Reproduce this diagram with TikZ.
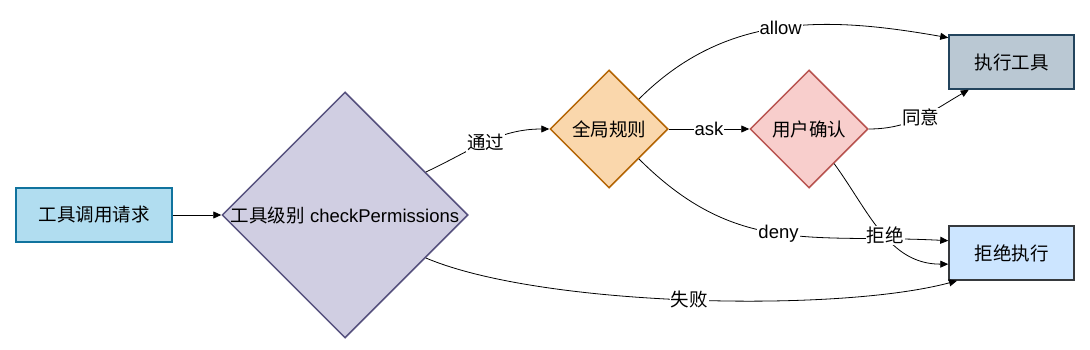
\documentclass[tikz,border=0pt]{standalone}
\usepackage{fontspec}
\setmainfont{Liberation Sans}
\newfontfamily\cjk{Noto Sans CJK SC}
\newcommand{\zh}[1]{{\cjk #1}}
\usepackage{tikz}
\usetikzlibrary{positioning, arrows.meta, shapes.geometric}
\definecolor{reqfill}{HTML}{B1DDF0}
\definecolor{reqline}{HTML}{10739E}
\definecolor{chkfill}{HTML}{D0CEE2}
\definecolor{chkline}{HTML}{56517E}
\definecolor{rulefill}{HTML}{FAD7AC}
\definecolor{ruleline}{HTML}{B46504}
\definecolor{askfill}{HTML}{F8CECC}
\definecolor{askline}{HTML}{B85450}
\definecolor{runfill}{HTML}{BAC8D3}
\definecolor{runline}{HTML}{23445D}
\definecolor{denyfill}{HTML}{CCE5FF}
\definecolor{denyline}{HTML}{36393D}

\begin{document}
\begin{tikzpicture}[x=1pt, y=1pt, >={Triangle[length=8pt, width=7pt]},
    font=\fontsize{18.5}{22}\selectfont,
    box/.style={draw, line width=1.5pt, minimum height=54pt, inner sep=0pt},
    dia/.style={draw, diamond, aspect=1, line width=1.5pt, inner sep=0pt},
    lbl/.style={fill=white, inner sep=1pt},
    flow/.style={->, line width=0.8pt}]
\useasboundingbox (0,0) rectangle (1090,-350);
% nodes
\node[box, fill=reqfill, draw=reqline, minimum width=156pt] (req) at (94,-215) {\zh{工具调用请求}};
\node[dia, fill=chkfill, draw=chkline, minimum size=246pt] (check) at (345,-215) {\makebox[0pt]{\zh{工具级别} checkPermissions}};
\node[dia, fill=rulefill, draw=ruleline, minimum size=118pt] (global) at (609,-129) {\zh{全局规则}};
\node[dia, fill=askfill, draw=askline, minimum size=118pt] (confirm) at (809,-129) {\zh{用户确认}};
\node[box, fill=runfill, draw=runline, minimum width=125pt] (exec) at (1011.5,-62) {\zh{执行工具}};
\node[box, fill=denyfill, draw=denyline, minimum width=125pt] (reject) at (1011.5,-253) {\zh{拒绝执行}};
% edges
\draw[flow] (req.east) -- (check.west);
\draw[flow] (check.28) to[out=25, in=180] node[lbl] {\zh{通过}} (global.west);
\draw[flow] (check.-28) to[out=-23, in=195, looseness=0.6] node[lbl] {\zh{失败}} (reject.207);
\draw[flow] (global.north east) to[out=45, in=170] node[lbl] {allow} (exec.159);
\draw[flow] (global.east) -- node[lbl] {ask} (confirm.west);
\draw[flow] (global.south east) to[out=-45, in=177, looseness=1.1] node[lbl] {deny} (reject.169);
\draw[flow] (confirm.east) to[out=0, in=210] node[lbl] {\zh{同意}} (exec.213);
\draw[flow] (confirm.-54) to[out=-54, in=180] node[lbl, pos=0.53] {\zh{拒绝}} (reject.190);
\end{tikzpicture}
\end{document}
